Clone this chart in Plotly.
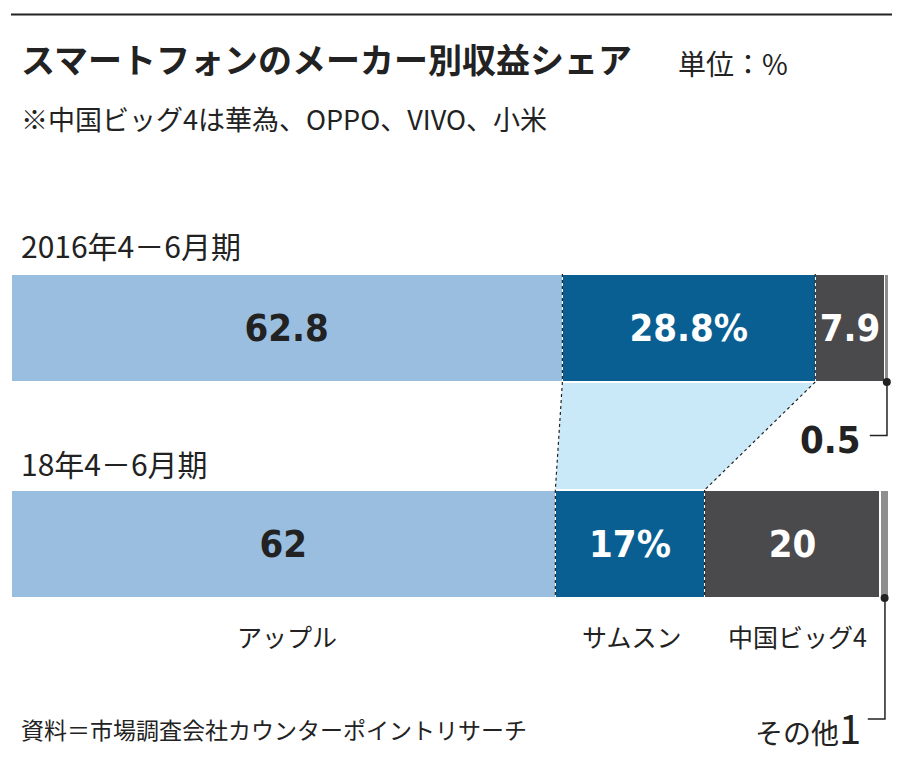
import plotly.graph_objects as go

periods = ["18年4－6月期", "2016年4－6月期"]
makers = ["アップル", "サムスン", "中国ビッグ4", "その他"]
shares = {
    "アップル": [62, 62.8],
    "サムスン": [17, 28.8],
    "中国ビッグ4": [20, 7.9],
    "その他": [1, 0.5],
}
labels16 = ["62.8", "28.8%", "7.9", ""]
labels18 = ["62", "17%", "20", ""]
colors = ["#99bee0", "#0a5f92", "#4a4a4c", "#8e8e8e"]
textcol = ["#222222", "white", "white", "white"]

W, H = 900, 771
def cx(x): return (x - 9) / 0.99
def cy(y): return (y - 8) / 0.99
L, R, T, B = cx(12), cx(881), cy(271), cy(592)
def px(x): return (cx(x) - L) / (R - L)
def py(y): return (B - cy(y)) / (B - T)

JP = "Noto Sans CJK JP"
NUM = "DejaVu Sans Condensed, sans-serif"

fig = go.Figure()
yv = [0, 1]
for i, m in enumerate(makers):
    txt = [labels18[i], labels16[i]]
    fig.add_trace(go.Bar(y=yv, x=shares[m], orientation="h", width=0.5,
                         marker=dict(color=colors[i], line=dict(color="white", width=1.5)),
                         text=txt, textposition="inside", insidetextanchor="middle",
                         texttemplate="<b>%{text}</b>",
                         textfont=dict(family=NUM, size=38, color=textcol[i]),
                         hoverinfo="skip", showlegend=False))

a16 = shares["アップル"][1]; s16 = a16 + shares["サムスン"][1]
a18 = shares["アップル"][0]; s18 = a18 + shares["サムスン"][0]
shapes = [
    dict(type="path", xref="x", yref="y",
         path=f"M {a16},0.75 L {s16},0.75 L {s18},0.25 L {a18},0.25 Z",
         fillcolor="#c9e9f9", line=dict(width=0), layer="below"),
]
for (x1, y1, x2, y2) in [(a16, 1.25, a16, 0.75), (a16, 0.75, a18, 0.25), (a18, 0.25, a18, -0.25),
                         (s16, 1.25, s16, 0.75), (s16, 0.75, s18, 0.25), (s18, 0.25, s18, -0.25)]:
    shapes.append(dict(type="line", xref="x", yref="y", x0=x1, y0=y1, x1=x2, y1=y2,
                       line=dict(color="#222", width=1.2, dash="dot")))
shapes.append(dict(type="line", xref="paper", yref="paper", x0=px(12), x1=px(885), y0=py(14), y1=py(14),
                   line=dict(color="#222", width=2)))
ox16 = 100 - shares["その他"][1] / 2
ox18 = 100 - shares["その他"][0] / 2
shapes.append(dict(type="path", xref="paper", yref="paper",
                   path=f"M {px(879)},{py(378)} L {px(879)},{py(431)} L {px(862)},{py(431)}",
                   line=dict(color="#222", width=1.5)))
shapes.append(dict(type="path", xref="paper", yref="paper",
                   path=f"M {px(877)},{py(592)} L {px(877)},{py(712)} L {px(860)},{py(712)}",
                   line=dict(color="#222", width=1.5)))
fig.add_trace(go.Scatter(x=[ox16, ox18], y=[0.75, -0.25], mode="markers",
                         marker=dict(color="#222", size=8), cliponaxis=False,
                         hoverinfo="skip", showlegend=False))

ann = []
def A(x, y, t, size, fam=JP, color="#222", xanchor="left", bold=False):
    if bold: t = f"<b>{t}</b>"
    ann.append(dict(x=px(x), y=py(y), xref="paper", yref="paper", text=t, showarrow=False,
                    xanchor=xanchor, yanchor="middle", font=dict(family=fam, size=size, color=color)))
A(20, 57, "スマートフォンのメーカー別収益シェア", 34, bold=True)
A(670, 62, "単位：%", 28)
A(20, 117, "※中国ビッグ4は華為、OPPO、VIVO、小米", 27)
A(20, 242, "2016年4－6月期", 30)
A(20, 458, "18年4－6月期", 30)
A(285, 630, "アップル", 25, xanchor="center")
A(627, 630, "サムスン", 25, xanchor="center")
A(790, 630, "中国ビッグ4", 25, xanchor="center")
A(855, 435, "0.5", 38, fam=NUM, xanchor="right", bold=True)
A(855, 720, "その他<span style='font-size:40px'>1</span>", 28, xanchor="right")
A(20, 722, "資料＝市場調査会社カウンターポイントリサーチ", 23)

fig.update_layout(width=W, height=H, margin=dict(l=L, r=W - R, t=T, b=H - B),
                  barmode="stack", plot_bgcolor="white", paper_bgcolor="white",
                  xaxis=dict(range=[0, 100], visible=False, fixedrange=True),
                  yaxis=dict(range=[-0.25, 1.25], visible=False, fixedrange=True),
                  shapes=shapes, annotations=ann)
fig.write_html("out.html")
